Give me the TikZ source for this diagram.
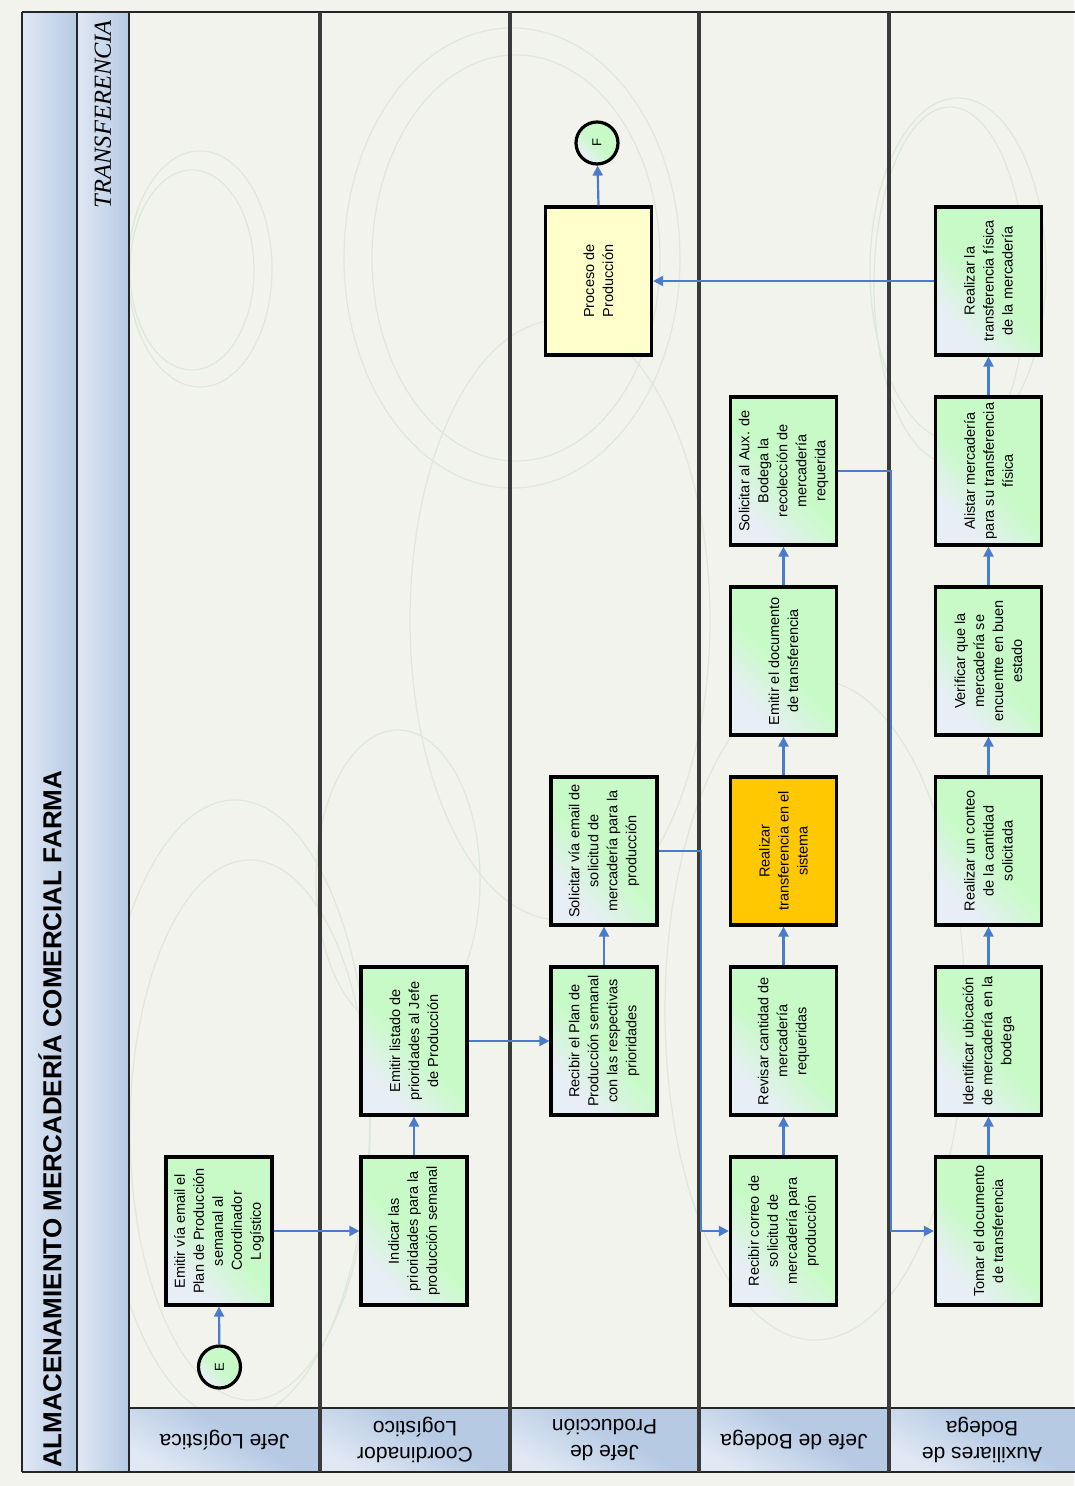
\documentclass[tikz,border=0pt]{standalone}
\usepackage{fontspec}
\setmainfont{Liberation Sans}
\newfontfamily\swimfont{Liberation Serif}
\usetikzlibrary{arrows.meta,calc}

\definecolor{paper}{HTML}{F2F3EC}
\definecolor{barblue}{HTML}{B6CAE4}
\definecolor{barlight}{HTML}{E0E8F4}
\definecolor{stepgreen}{HTML}{C8FAC8}
\definecolor{steplight}{HTML}{E8EEF6}
\definecolor{flowblue}{HTML}{4A7CCB}
\definecolor{sepgray}{HTML}{3A3A3A}
\definecolor{busy}{HTML}{FFC800}
\definecolor{procyellow}{HTML}{FFFFCC}
\definecolor{watermark}{HTML}{DDE7DA}

\pgfdeclareverticalshading{stepshade}{100bp}{color(0bp)=(steplight); color(28bp)=(steplight); color(48bp)=(stepgreen); color(100bp)=(stepgreen)}
\pgfdeclareverticalshading{headshade}{100bp}{color(0bp)=(barlight); color(25bp)=(barlight); color(55bp)=(barblue); color(100bp)=(barblue)}

\tikzset{
  boxbase/.style={draw=black, line width=3.2pt,
    minimum width=106pt, minimum height=148pt, inner sep=0pt},
  stepbox/.style={boxbase, shading=stepshade, shading angle=-45},
  busybox/.style={boxbase, fill=busy},
  procbox/.style={boxbase, fill=procyellow},
  steptext/.style={rotate=90, align=center, inner sep=0pt,
    font=\fontsize{14.5}{19}\selectfont},
  endpoint/.style={circle, draw=black, line width=3.2pt, minimum size=42pt, inner sep=0pt,
    shading=stepshade, shading angle=-45, rotate=90, font=\fontsize{13}{13}\selectfont},
  flow/.style={draw=flowblue, line width=2.2pt, -{Triangle[length=10pt,width=10pt]}},
  headtext/.style={rotate=180, align=center, inner sep=0pt, font=\fontsize{21}{26}\selectfont},
  frameline/.style={draw=black!85, line width=2.8pt},
  laneline/.style={draw=sepgray, line width=3.4pt},
  faint/.style={draw=watermark, line width=1.2pt}
}

\newcommand{\stepnode}[4][stepbox]{%
  \node[#1, label={[steptext]center:{#4}}] (#2) at (#3) {};}

\begin{document}
\begin{tikzpicture}[x=1pt,y=-1pt]
\useasboundingbox (0,0) rectangle (1074,1486);
\fill[paper] (0,0) rectangle (1074,1486);

% faint background ornaments of the swimlane sheet
\begin{scope}
  \clip (129,12) rectangle (1074,1408);
  \draw[faint] (200,269) ellipse [x radius=72, y radius=118];
  \draw[faint] (192,270) ellipse [x radius=62, y radius=100];
  \draw[faint] (512,258) ellipse [x radius=168, y radius=230];
  \draw[faint] (516,258) ellipse [x radius=144, y radius=203];
  \draw[faint] (958,270) ellipse [x radius=88, y radius=172];
  \draw[faint] (950,285) ellipse [x radius=76, y radius=178];
  \draw[faint] (398,880) ellipse [x radius=82, y radius=150];
  \draw[faint] (235,1110) ellipse [x radius=135, y radius=310];
  \draw[faint] (250,1130) ellipse [x radius=120, y radius=270];
  \draw[faint] (815,1010) ellipse [x radius=150, y radius=330];
  \draw[faint] (560,620) ellipse [x radius=150, y radius=300];
\end{scope}

% title strips
\shade[left color=barlight, right color=barblue] (22,12) rectangle (77,1472);
\shade[left color=barlight, right color=barblue] (77,12) rectangle (129,1472);

% lane header cells
\foreach \a/\b in {129/320, 320/510, 510/699, 699/889, 889/1090}
  \shade[shading=headshade, shading angle=-30] (\a,1408) rectangle (\b,1472);

% frame and lane separators
\draw[frameline] (22,12) -- (1090,12);
\draw[frameline] (22,1472) -- (1090,1472);
\draw[frameline] (22,12) -- (22,1472);
\draw[frameline] (77,12) -- (77,1472);
\draw[frameline] (129,12) -- (129,1472);
\draw[frameline] (129,1408) -- (1090,1408);
\foreach \x in {320,510,699,889}
  \draw[laneline] (\x,12) -- (\x,1472);

% titles
\node[rotate=90, anchor=west, inner sep=0pt, font=\bfseries\fontsize{26}{26}\selectfont] (title)
  at (50,1468) {ALMACENAMIENTO MERCADERÍA COMERCIAL FARMA};
\node[rotate=90, anchor=east, inner sep=0pt, font=\swimfont\itshape\fontsize{24.5}{24.5}\selectfont] (swim)
  at (103,20) {TRANSFERENCIA};

% lane headers
\node[headtext] (h1) at (224.5,1440) {Jefe Logística};
\node[headtext] (h2) at (415,1440) {Coordinador\\Logístico};
\node[headtext] (h3) at (604.5,1440) {Jefe de\\Producción};
\node[headtext] (h4) at (794,1440) {Jefe de Bodega};
\node[headtext] (h5) at (982,1440) {Auxiliares de\\Bodega};

% process steps
\node[endpoint] (E) at (219.5,1367) {E};
\stepnode{emitir}{219,1231}{Emitir vía email el\\Plan de Producción\\semanal al\\Coordinador\\Logístico}
\stepnode{indicar}{414,1231}{Indicar las\\prioridades para la\\producción semanal}
\stepnode{listado}{414,1041}{Emitir listado de\\prioridades al Jefe\\de Producción}
\stepnode{recplan}{604,1041}{Recibir el Plan de\\Producción semanal\\con las respectivas\\prioridades}
\stepnode{solicitar}{604,851}{Solicitar vía email de\\solicitud de\\mercadería para la\\producción}
\stepnode[procbox]{proceso}{598.5,281}{Proceso de\\Producción}
\node[endpoint] (F) at (597,143) {F};

\stepnode{reccorreo}{783.5,1231}{Recibir correo de\\solicitud de\\mercadería para\\producción}
\stepnode{revisar}{783.5,1041}{Revisar cantidad de\\mercadería\\requeridas}
\stepnode[busybox]{sistema}{783.5,851}{Realizar\\transferencia en el\\sistema}
\stepnode{emitirdoc}{783.5,661}{Emitir el documento\\de transferencia}
\stepnode{solaux}{783.5,471}{Solicitar al Aux. de\\Bodega la\\recolección de\\mercadería\\requerida}

\stepnode{tomar}{988.5,1231}{Tomar el documento\\de transferencia}
\stepnode{ubicar}{988.5,1041}{Identificar ubicación\\de mercadería en la\\bodega}
\stepnode{conteo}{988.5,851}{Realizar un conteo\\de la cantidad\\solicitada}
\stepnode{verificar}{988.5,661}{Verificar que la\\mercadería se\\encuentre en buen\\estado}
\stepnode{alistar}{988.5,471}{Alistar mercadería\\para su transferencia\\física}
\stepnode{fisica}{988.5,281}{Realizar la\\transferencia física\\de la mercadería}

% connectors
\draw[flow] (E) -- (emitir.south);
\draw[flow] (emitir.east) -- (indicar.west);
\draw[flow] (indicar.north) -- (listado.south);
\draw[flow] (listado.east) -- (recplan.west);
\draw[flow] (recplan.north) -- (solicitar.south);
\draw[flow] (solicitar.east) -- ++(42.5,0) |- (reccorreo.west);
\draw[flow] (reccorreo.north) -- (revisar.south);
\draw[flow] (revisar.north) -- (sistema.south);
\draw[flow] (sistema.north) -- (emitirdoc.south);
\draw[flow] (emitirdoc.north) -- (solaux.south);
\draw[flow] (solaux.east) -- ++(52.5,0) |- (tomar.west);
\draw[flow] (tomar.north) -- (ubicar.south);
\draw[flow] (ubicar.north) -- (conteo.south);
\draw[flow] (conteo.north) -- (verificar.south);
\draw[flow] (verificar.north) -- (alistar.south);
\draw[flow] (alistar.north) -- (fisica.south);
\draw[flow] (fisica.west) -- (proceso.east);
\draw[flow] (proceso.north) -- (F);
\end{tikzpicture}
\end{document}
